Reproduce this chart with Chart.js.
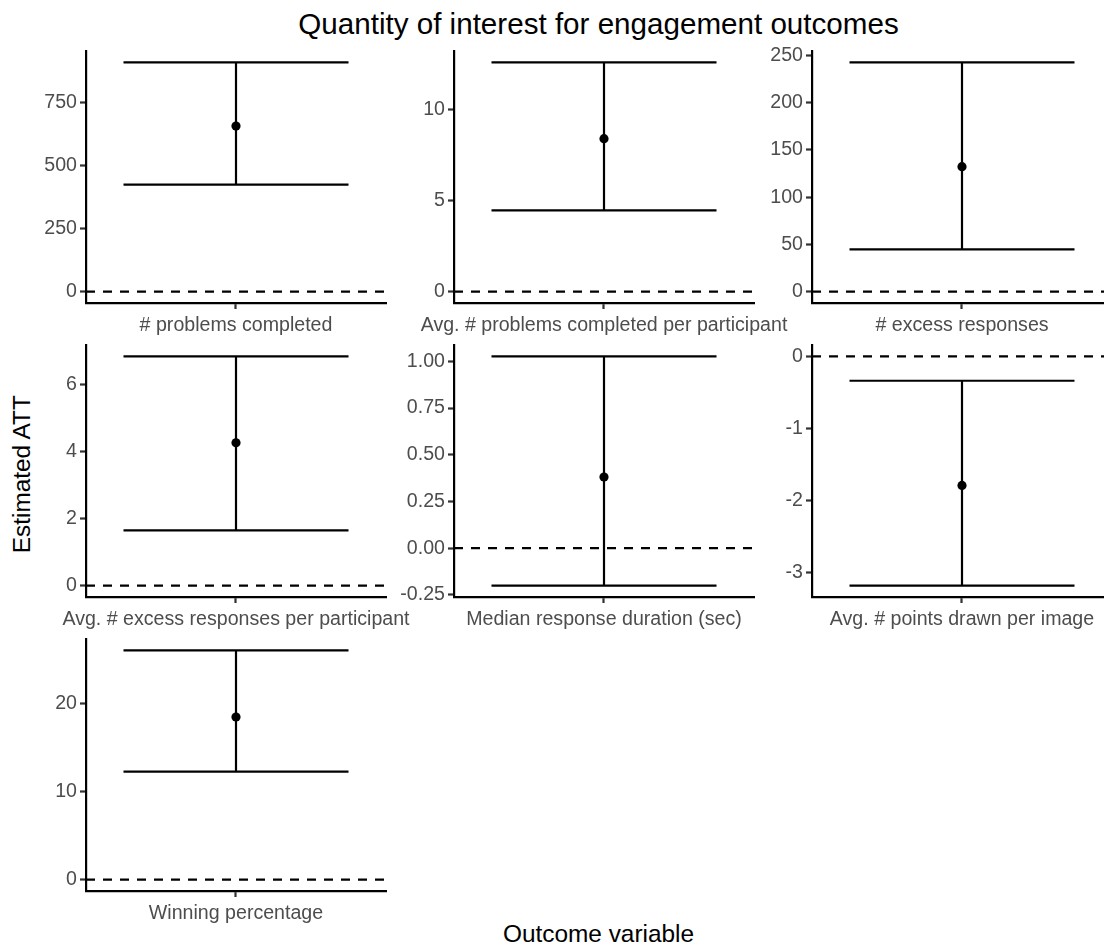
<!DOCTYPE html>
<html>
<head>
<meta charset="utf-8">
<script src="https://cdn.jsdelivr.net/npm/chart.js@4.4.1/dist/chart.umd.min.js"></script>
<style>
  body { margin: 0; background: #fff; width: 1104px; height: 949px; overflow: hidden; position: relative;
         font-family: "Liberation Sans", Arial, sans-serif; }
  canvas { position: absolute; }
  .lab { position: absolute; color: #000; text-align: center; white-space: nowrap; }
  #title { left: 86px; width: 1025px; top: 9px; font-size: 29.6px; line-height: 29.6px; }
  #xlab { left: 86px; width: 1025px; top: 922px; font-size: 24.4px; line-height: 24.4px; }
  #ylab { left: -128px; top: 462px; width: 300px; font-size: 24.4px; line-height: 24.4px; transform: rotate(-90deg); }
</style>
</head>
<body>
<div class="lab" id="title">Quantity of interest for engagement outcomes</div>
<div class="lab" id="ylab">Estimated ATT</div>
<div class="lab" id="xlab">Outcome variable</div>
<script>
// one facet per outcome
const outcomes = [
  '# problems completed',
  'Avg. # problems completed per participant',
  '# excess responses',
  'Avg. # excess responses per participant',
  'Median response duration (sec)',
  'Avg. # points drawn per image',
  'Winning percentage'
];
const estimates = [655, 8.38, 132.3, 4.27, 0.381, -1.79, 18.5];
const lower = [423, 4.45, 44.6, 1.65, -0.2, -3.18, 12.27];
const upper = [907, 12.56, 242.7, 6.85, 1.026, -0.337, 26.07];
const yTickLabels = [
  ['0', '250', '500', '750'],
  ['0', '5', '10'],
  ['0', '50', '100', '150', '200', '250'],
  ['0', '2', '4', '6'],
  ['-0.25', '0.00', '0.25', '0.50', '0.75', '1.00'],
  ['-3', '-2', '-1', '0'],
  ['0', '10', '20']
];

Chart.defaults.font.family = "'Liberation Sans', Arial, sans-serif";

// facet grid geometry
const colLeft = [86, 454, 812];
const rowTop = [51, 345, 639];
const areaW = 300, areaH = 252;
const YW = 80, XH = 44, PT = 16, PR = 90;
const LW = 2.2;
const barWidth = 0.9; // geom_errorbar default width

function expand(lo, hi) {
  const d = (hi - lo) * 0.05;
  return [lo - d, hi + d];
}

outcomes.forEach((name, i) => {
  const col = i % 3, row = Math.floor(i / 3);
  const cv = document.createElement('canvas');
  const w = YW + areaW + PR, h = PT + areaH + XH;
  cv.width = w; cv.height = h;
  cv.style.width = w + 'px'; cv.style.height = h + 'px';
  cv.style.left = (colLeft[col] - YW) + 'px';
  cv.style.top = (rowTop[row] - PT) + 'px';
  document.body.appendChild(cv);

  const [yMin, yMax] = expand(Math.min(0, lower[i]), Math.max(0, upper[i]));
  const xMin = 0.4, xMax = 1.6;
  const tickVals = yTickLabels[i].map(parseFloat);

  const seg = (data, extra) => Object.assign({
    data, showLine: true, borderColor: '#000', borderWidth: LW,
    pointRadius: 0, fill: false, order: 1
  }, extra || {});

  new Chart(cv, {
    type: 'scatter',
    data: {
      datasets: [
        { data: [{ x: 1, y: estimates[i] }], pointRadius: 4.6, pointBackgroundColor: '#000',
          pointBorderColor: '#000', pointBorderWidth: 0, order: 0 },
        seg([{ x: 1, y: lower[i] }, { x: 1, y: upper[i] }]),
        seg([{ x: 1 - barWidth / 2, y: upper[i] }, { x: 1 + barWidth / 2, y: upper[i] }]),
        seg([{ x: 1 - barWidth / 2, y: lower[i] }, { x: 1 + barWidth / 2, y: lower[i] }]),
        seg([{ x: xMin, y: 0 }, { x: xMax, y: 0 }], { borderDash: [9, 8], order: 2 })
      ]
    },
    options: {
      responsive: false,
      animation: false,
      events: [],
      layout: { padding: { top: PT, right: PR, left: 0, bottom: 0 } },
      plugins: { legend: { display: false }, tooltip: { enabled: false } },
      scales: {
        x: {
          type: 'linear', min: xMin, max: xMax,
          afterBuildTicks: s => { s.ticks = [{ value: 1 }]; },
          // keep the panel width fixed even when the label is wider than it
          afterFit: s => { s.height = XH; s.paddingLeft = 0; s.paddingRight = 0; },
          ticks: { callback: () => name, maxRotation: 0, minRotation: 0, padding: 5,
                   color: '#4D4D4D', font: { size: 19.6 } },
          grid: { drawOnChartArea: false, drawTicks: true, tickLength: 6,
                  tickColor: '#333333', tickWidth: LW },
          border: { display: true, color: '#000', width: LW }
        },
        y: {
          type: 'linear', min: yMin, max: yMax,
          afterBuildTicks: s => { s.ticks = tickVals.map(v => ({ value: v })); },
          afterFit: s => { s.width = YW; },
          ticks: {
            callback: v => yTickLabels[i][tickVals.indexOf(v)],
            padding: 3, color: '#4D4D4D', font: { size: 19.6 }
          },
          grid: { drawOnChartArea: false, drawTicks: true, tickLength: 6,
                  tickColor: '#333333', tickWidth: LW },
          border: { display: true, color: '#000', width: LW }
        }
      }
    }
  });
});
</script>
</body>
</html>
